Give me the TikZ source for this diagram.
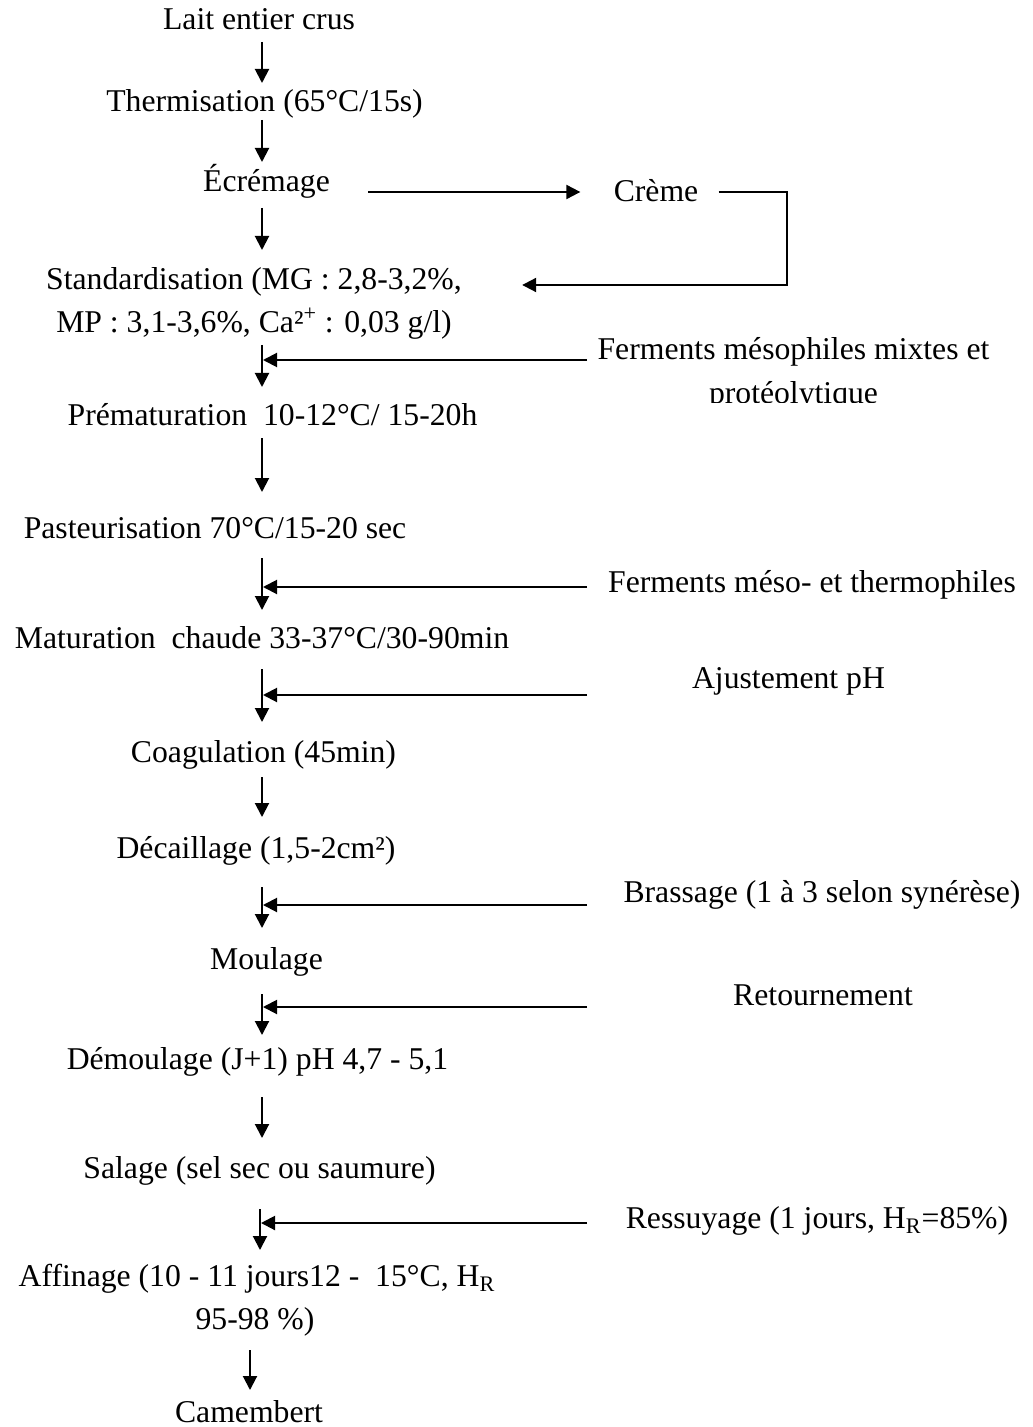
\documentclass[tikz,border=0pt]{standalone}
\usepackage{fontspec}
\setmainfont{Liberation Serif}
\usetikzlibrary{arrows.meta}
\begin{document}
\begin{tikzpicture}[x=0.5pt,y=-0.5pt,
  txt/.style={inner sep=0pt, anchor=base, font=\fontsize{15.85pt}{19pt}\selectfont},
  arr/.style={line width=1pt, -{Triangle[length=7pt,width=7pt]}},
  conn/.style={line width=1pt}]
\useasboundingbox (0,0) rectangle (1032,1427);

% main column
\node[txt] (lait)   at (259,30)    {Lait entier crus};
\node[txt] (therm)  at (264.5,112) {Thermisation (65°C/15s)};
\node[txt] (ecr)    at (266.5,192) {Écrémage};
\node[txt] (creme)  at (656,202)   {Crème};
\node[txt] (std1)   at (254,290)   {Standardisation (MG : 2,8-3,2\%,};
\node[txt] (std2)   at (254,333)   {MP : 3,1-3,6\%, Ca²\textsuperscript{+} : 0,03 g/l)};
\node[txt] (premat) at (272.5,425) {Prématuration\ \ 10-12°C/ 15-20h};
\node[txt] (past)   at (215,538)   {Pasteurisation 70°C/15-20 sec};
\node[txt] (matur)  at (262,648)   {Maturation\ \ chaude 33-37°C/30-90min};
\node[txt] (coag)   at (263.5,762) {Coagulation (45min)};
\node[txt] (decai)  at (256,858)   {Décaillage (1,5-2cm²)};
\node[txt] (moul)   at (266.5,969) {Moulage};
\node[txt] (demoul) at (257.5,1069){Démoulage (J+1) pH 4,7 - 5,1};
\node[txt] (salage) at (259.5,1178){Salage (sel sec ou saumure)};
\node[txt] (affin1) at (257,1286)  {Affinage (10 - 11 jours12 -\ \ 15°C, H\textsubscript{R}};
\node[txt] (affin2) at (255,1329)  {95-98 \%)};
\node[txt] (camem)  at (249,1422)  {Camembert};

% side inputs
\node[txt] (ferm1)  at (793.5,360) {Ferments mésophiles mixtes et};
\begin{scope}
  \clip (600,370) rectangle (1000,403);
  \node[txt] (ferm2) at (793.5,404) {protéolytique};
\end{scope}
\node[txt] (ferm3)  at (812,592)   {Ferments méso- et thermophiles};
\node[txt] (ajust)  at (788.5,688) {Ajustement pH};
\node[txt] (brass)  at (822,902)   {Brassage (1 à 3 selon synérèse)};
\node[txt] (retour) at (823,1005)  {Retournement};
\node[txt] (ressuy) at (817,1228)  {Ressuyage (1 jours, H\textsubscript{R}=85\%)};

% columns and junctions
\coordinate (c)   at (262,0);
\coordinate (c12) at (260,0);
\coordinate (c13) at (250,0);
\coordinate (r)   at (587,0);
\coordinate (j4)  at (263,360);
\coordinate (j6)  at (263,587);
\coordinate (j7)  at (263,695);
\coordinate (j9)  at (263,905);
\coordinate (j10) at (263,1007);
\coordinate (j12) at (261,1223);

% vertical arrows
\draw[arr] ([yshift=-6pt]lait.base -| c)     -- ([yshift=14.5pt]therm.base -| c);
\draw[arr] ([yshift=-4pt]therm.base -| c)    -- ([yshift=15pt]ecr.base -| c);
\draw[arr] ([yshift=-8pt]ecr.base -| c)      -- ([yshift=20pt]std1.base -| c);
\draw[arr] ([yshift=-6pt]std2.base -| c)     -- ([yshift=19pt]premat.base -| c);
\draw[arr] ([yshift=-6.5pt]premat.base -| c) -- ([yshift=23pt]past.base -| c);
\draw[arr] ([yshift=-10pt]past.base -| c)    -- ([yshift=19pt]matur.base -| c);
\draw[arr] ([yshift=-10.5pt]matur.base -| c) -- ([yshift=20pt]coag.base -| c);
\draw[arr] ([yshift=-7.5pt]coag.base -| c)   -- ([yshift=20.5pt]decai.base -| c);
\draw[arr] ([yshift=-14.5pt]decai.base -| c) -- ([yshift=20.5pt]moul.base -| c);
\draw[arr] ([yshift=-12.5pt]moul.base -| c)  -- ([yshift=17pt]demoul.base -| c);
\draw[arr] ([yshift=-14pt]demoul.base -| c)  -- ([yshift=20pt]salage.base -| c);
\draw[arr] ([yshift=-15.5pt]salage.base -| c12) -- ([yshift=18pt]affin1.base -| c12);
\draw[arr] ([yshift=-10.5pt]affin2.base -| c13) -- ([yshift=16pt]camem.base -| c13);

% cream loop
\draw[arr, shorten <=19pt, shorten >=16.5pt] (ecr.base east) -- (ecr.base east -| creme.west);
\draw[arr] ([shift={(10pt,5pt)}]creme.base east) -- ++(68,0) |- ([shift={(30pt,2.5pt)}]std1.base east);

% side arrows
\draw[arr] (j4 -| r)  -- (j4);
\draw[arr] (j6 -| r)  -- (j6);
\draw[arr] (j7 -| r)  -- (j7);
\draw[arr] (j9 -| r)  -- (j9);
\draw[arr] (j10 -| r) -- (j10);
\draw[arr] (j12 -| r) -- (j12);
\end{tikzpicture}
\end{document}
